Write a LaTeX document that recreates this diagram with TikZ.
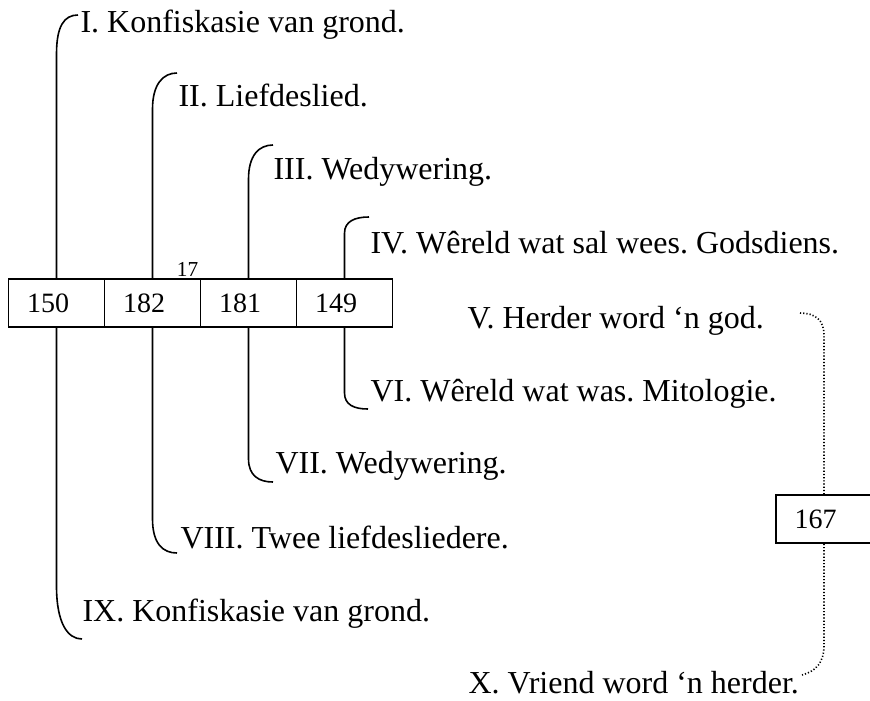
\documentclass[tikz,border=0pt]{standalone}
\usepackage{fontspec}
\setmainfont{Liberation Serif}
\usepackage{tikz}
\usepackage{xcolor}
\frenchspacing

\begin{document}
\begin{tikzpicture}[x=0.375pt,y=-0.375pt,
  numbox/.style={draw, line width=0.6pt, minimum height=18pt, text width=22pt,
    inner xsep=7pt, inner ysep=0pt, align=left, font=\fontsize{10.5}{12}\selectfont},
  lbl/.style={anchor=base west, inner sep=0pt, font=\fontsize{12}{14}\selectfont},
  hook/.style={line width=0.6pt},
  dotconn/.style={line width=0.6pt, dash pattern=on 0.45pt off 0.75pt}]
\clip (0,0) rectangle (870,700);

% the four boxes and the one on the right
\node [numbox] (b1) at (56.5,303) {150};
\node [numbox] (b2) at (152.5,303) {182};
\node [numbox] (b3) at (248.5,303) {181};
\node [numbox] (b4) at (344.5,303) {149};
\node [numbox] (b5) at (824,519) {167};
\node [anchor=base, inner sep=0pt, font=\fontsize{8}{9}\selectfont] (n17) at (187.5,276) {17};

% labels
\node [lbl] (t1) at (80,32) {I. Konfiskasie van grond.};
\node [lbl] (t2) at (178,106) {II. Liefdeslied.};
\node [lbl] (t3) at (273,179) {III. Wedywering.};
\node [lbl] (t4) at (370,253) {IV. Wêreld wat sal wees. Godsdiens.};
\node [lbl] (t5) at (467,328) {V. Herder word ‘n god.};
\node [lbl] (t6) at (370,401) {VI. Wêreld wat was. Mitologie.};
\node [lbl] (t7) at (275,473) {VII. Wedywering.};
\node [lbl] (t8) at (180,548) {VIII. Twee liefdesliedere.};
\node [lbl] (t9) at (82,621) {IX. Konfiskasie van grond.};
\node [lbl] (t10) at (468,693) {X. Vriend word ‘n herder.};

% hook ends
\coordinate (e1) at (78,15);
\coordinate (e2) at (177,73);
\coordinate (e3) at (273,145);
\coordinate (e4) at (369,217);
\coordinate (e6) at (368,409);
\coordinate (e7) at (273,482);
\coordinate (e8) at (177,553);
\coordinate (e9) at (82,639);
\coordinate (h5) at (800,313);
\coordinate (h10) at (802,675);

% upper hooks
\draw [hook] (b1.north) -- ++(0,-224) .. controls +(0,-28) and +(-14,0) .. (e1);
\draw [hook] (b2.north) -- ++(0,-169) .. controls +(0,-25) and +(-14,0) .. (e2);
\draw [hook] (b3.north) -- ++(0,-99) .. controls +(0,-24) and +(-14,0) .. (e3);
\draw [hook] (b4.north) -- ++(0,-45) .. controls +(0,-12) and +(-14,0) .. (e4);

% lower hooks
\draw [hook] (b4.south) -- ++(0,65) .. controls +(0,12) and +(-14,0) .. (e6);
\draw [hook] (b3.south) -- ++(0,131) .. controls +(0,17) and +(-14,0) .. (e7);
\draw [hook] (b2.south) -- ++(0,191) .. controls +(0,25) and +(-14,0) .. (e8);
\draw [hook] (b1.south) -- ++(0,258) .. controls +(0,38) and +(-14,0) .. (e9);

% dotted line on the right
\draw [dotconn] (h5) .. controls +(15,0) and +(0,-15) .. (b5.north |- 0,335) -- (b5.north);
\draw [dotconn] (b5.south) -- (b5.south |- 0,645) .. controls +(0,18) and +(14,-4) .. (h10);
\end{tikzpicture}
\end{document}
